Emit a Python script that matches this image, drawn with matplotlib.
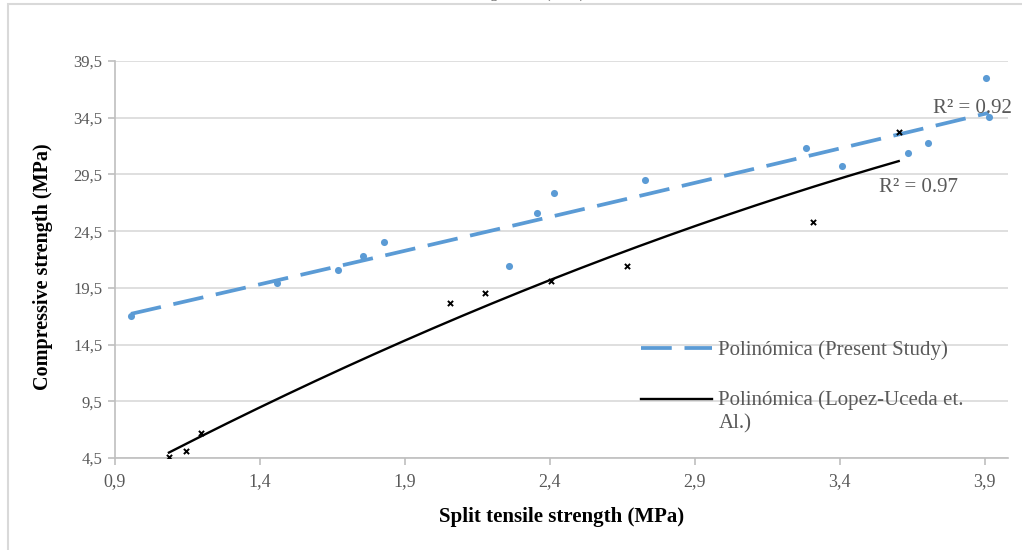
import numpy as np
import matplotlib
matplotlib.use("Agg")
import matplotlib.pyplot as plt
from matplotlib.legend_handler import HandlerLine2D
from matplotlib.patches import Rectangle

# ---- data ----
present_x = [0.955, 1.459, 1.669, 1.755, 1.828, 2.259, 2.355, 2.414, 2.728,
             3.283, 3.407, 3.634, 3.703, 3.903, 3.914]
present_y = [17.0, 19.9, 21.1, 22.3, 23.5, 21.4, 26.1, 27.9, 29.0,
             31.8, 30.2, 31.4, 32.3, 38.0, 34.6]

lopez_x = [1.086, 1.145, 1.197, 2.055, 2.176, 2.403, 2.666, 3.307, 3.603]
lopez_y = [4.6, 5.1, 6.7, 18.2, 19.05, 20.1, 21.4, 25.3, 33.2]

x_ticks = [0.9, 1.4, 1.9, 2.4, 2.9, 3.4, 3.9]
x_tick_labels = ["0,9", "1,4", "1,9", "2,4", "2,9", "3,4", "3,9"]
y_ticks = [4.5, 9.5, 14.5, 19.5, 24.5, 29.5, 34.5, 39.5]
y_tick_labels = ["4,5", "9,5", "14,5", "19,5", "24,5", "29,5", "34,5", "39,5"]

legend_labels = ["Polinómica (Present Study)", "Polinómica (Lopez-Uceda et.\nAl.)"]
r2_labels = ["R² = 0.92", "R² = 0.97"]

BLUE = "#5B9BD5"
GRAY_TXT = "#595959"
GRID = "#D9D9D9"
AXIS = "#BFBFBF"
SERIF = ["Liberation Serif", "DejaVu Serif"]

fig = plt.figure(figsize=(10.22, 5.5), dpi=100)
ax = fig.add_axes([115 / 1022, 1 - 458 / 550, (1008 - 115) / 1022, (458 - 61) / 550])

# chart border (light gray, partly outside the canvas)
fig.patches.append(Rectangle((8 / 1022, -0.2), 1.2, 1.2 - 4 / 550,
                             transform=fig.transFigure, fill=False,
                             ec=GRID, lw=1.5, zorder=0))
# cut-off title at the very top
fig.text(521 / 1022, 1 + 2 / 550, "Strength ratio (MPa)", ha="center",
         va="baseline", color=GRAY_TXT, fontsize=11, family=SERIF)

# scatter points
ax.scatter(present_x, present_y, s=26, color=BLUE, zorder=3, linewidths=0)
ax.scatter(lopez_x, lopez_y, s=14, marker="x", color="black", linewidths=1.4, zorder=3)

# polynomial (order 2) trendlines
px = np.array(present_x); py = np.array(present_y)
lx = np.array(lopez_x); ly = np.array(lopez_y)
cp = np.polyfit(px, py, 2)
cl = np.polyfit(lx, ly, 2)
xp = np.linspace(px.min(), px.max(), 200)
xl = np.linspace(lx.min(), lx.max(), 200)
l1, = ax.plot(xp, np.polyval(cp, xp), color=BLUE, lw=2.7,
              linestyle=(0, (8.2, 3.4)), zorder=2, label=legend_labels[0])
l2, = ax.plot(xl, np.polyval(cl, xl), color="black", lw=1.7, zorder=2,
              label=legend_labels[1])

ax.text(3.72, 35.3, r2_labels[0], color=GRAY_TXT, fontsize=15,
        family=SERIF, va="center", ha="left")
ax.text(3.535, 28.35, r2_labels[1], color=GRAY_TXT, fontsize=15,
        family=SERIF, va="center", ha="left")

ax.set_xlim(0.9, 3.98)
ax.set_ylim(4.5, 39.5)
ax.set_xticks(x_ticks)
ax.set_xticklabels(x_tick_labels)
ax.set_yticks(y_ticks)
ax.set_yticklabels(y_tick_labels)
ax.grid(axis="y", color=GRID, lw=1.2)
ax.set_axisbelow(True)
for s in ["top", "right"]:
    ax.spines[s].set_visible(False)
for s in ["left", "bottom"]:
    ax.spines[s].set_color(AXIS)
    ax.spines[s].set_linewidth(1.2)
ax.tick_params(axis="both", direction="out", length=5, width=1.2, color=AXIS,
               labelcolor=GRAY_TXT)
ax.tick_params(axis="x", pad=6)
ax.tick_params(axis="y", pad=4)
for t in ax.get_xticklabels():
    t.set_family(SERIF); t.set_fontsize(13)
for t in ax.get_yticklabels():
    t.set_family(SERIF); t.set_fontsize(12)

ax.set_xlabel("Split tensile strength (MPa)", family=SERIF, fontsize=15,
              fontweight="bold", labelpad=12)
ax.set_ylabel("Compressive strength (MPa)", family=SERIF, fontsize=14.5,
              fontweight="bold")
ax.yaxis.set_label_coords((53 - 115) / 893, (458 - 267) / 397)


class HandlerUp(HandlerLine2D):
    def __init__(self, up, **kw):
        super().__init__(**kw)
        self.up = up

    def create_artists(self, legend, orig_handle, xdescent, ydescent, width,
                       height, fontsize, trans):
        return super().create_artists(legend, orig_handle, xdescent,
                                      ydescent - 2 * self.up, width, height,
                                      fontsize, trans)


leg = ax.legend(handles=[l1, l2], loc="upper left",
                bbox_to_anchor=((631 - 115) / 893, (458 - 330) / 397),
                frameon=False, borderpad=0, handlelength=3.4,
                handletextpad=0.3, labelspacing=1.45,
                prop={"family": SERIF, "size": 15},
                handler_map={l2: HandlerUp(9.5)})
for t in leg.get_texts():
    t.set_color(GRAY_TXT)
    t.set_linespacing(1.3)

fig.savefig("out.png", dpi=100)
